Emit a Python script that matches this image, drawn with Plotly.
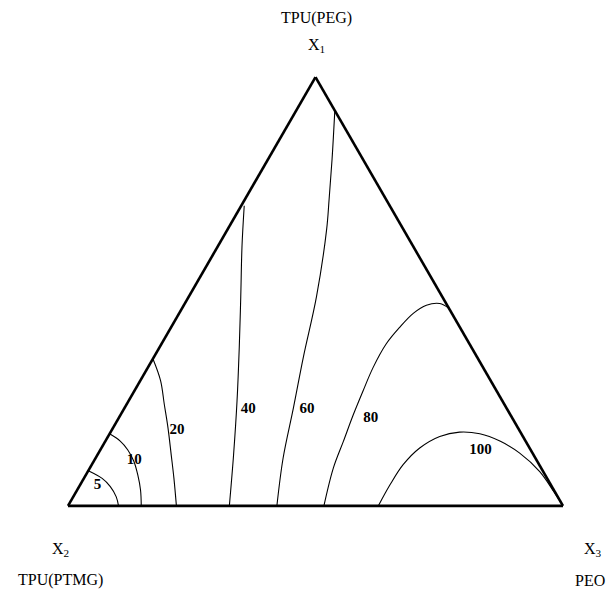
import plotly.graph_objects as go

# Ternary contour lines: X1 = TPU(PEG) (top), X3 = PEO (bottom right);
# X2 = TPU(PTMG) is the remainder 1 - X1 - X3.
levels = ["5", "10", "20", "40", "60", "80", "100"]

x1_5 = [0.082, 0.064, 0.045, 0.021, 0.0]
x3_5 = [0.0, 0.037, 0.063, 0.087, 0.102]

x1_10 = [0.168, 0.151, 0.131, 0.104, 0.072, 0.037, 0.0]
x3_10 = [0.0, 0.030, 0.055, 0.081, 0.105, 0.128, 0.148]

x1_20 = [0.343, 0.292, 0.237, 0.182, 0.119, 0.064, 0.0]
x3_20 = [0.0, 0.041, 0.076, 0.111, 0.149, 0.182, 0.219]

x1_40 = [0.700, 0.605, 0.488, 0.370, 0.245, 0.119, 0.0]
x3_40 = [0.006, 0.049, 0.105, 0.161, 0.219, 0.275, 0.326]

x1_60 = [0.922, 0.809, 0.715, 0.645, 0.488, 0.347, 0.229, 0.111, 0.0]
x3_60 = [0.078, 0.129, 0.170, 0.200, 0.258, 0.302, 0.341, 0.379, 0.422]

x1_80 = [0.0, 0.088, 0.151, 0.213, 0.268, 0.323, 0.378, 0.417, 0.449,
         0.468, 0.472, 0.461]
x3_80 = [0.517, 0.492, 0.481, 0.470, 0.462, 0.455, 0.454, 0.462, 0.473,
         0.490, 0.515, 0.539]

x1_100 = [0.0, 0.049, 0.096, 0.135, 0.162, 0.172, 0.168, 0.151, 0.123,
          0.080, 0.033, 0.0]
x3_100 = [0.627, 0.626, 0.629, 0.643, 0.670, 0.705, 0.748, 0.797, 0.851,
          0.913, 0.965, 1.0]

# Label anchor positions (X1, X3) for each contour level
label_x1 = [0.047, 0.106, 0.176, 0.226, 0.226, 0.205, 0.129]
label_x3 = [0.036, 0.081, 0.132, 0.251, 0.370, 0.509, 0.769]

contours = [
    (x1_5, x3_5), (x1_10, x3_10), (x1_20, x3_20), (x1_40, x3_40),
    (x1_60, x3_60), (x1_80, x3_80), (x1_100, x3_100),
]

SERIF = "Liberation Serif, Times New Roman, serif"
W, H = 613, 590

fig = go.Figure()

for (a_vals, c_vals), lvl in zip(contours, levels):
    b_vals = [max(0.0, 1 - a - c) for a, c in zip(a_vals, c_vals)]
    fig.add_trace(go.Scatterternary(
        a=a_vals, b=b_vals, c=c_vals,
        mode="lines",
        line=dict(color="black", width=1.1, shape="spline", smoothing=1.0),
        name=lvl, showlegend=False, hoverinfo="skip",
    ))

fig.add_trace(go.Scatterternary(
    a=label_x1,
    b=[1 - a - c for a, c in zip(label_x1, label_x3)],
    c=label_x3,
    mode="text",
    text=levels,
    textfont=dict(family=SERIF, size=15, color="black", weight="bold"),
    showlegend=False, hoverinfo="skip",
))

axis_style = dict(
    showgrid=False, showticklabels=False, ticks="",
    showline=True, linecolor="black", linewidth=2.6,
    title=dict(text=""),
)

cx, cy, side = 315.5, 291.5, 495.0
h_tri = side * 3 ** 0.5 / 2
fig.update_layout(
    width=W, height=H,
    margin=dict(l=0, r=0, t=0, b=0),
    paper_bgcolor="white",
    ternary=dict(
        sum=1,
        bgcolor="white",
        domain=dict(
            x=[(cx - side / 2) / W, (cx + side / 2) / W],
            y=[1 - (cy + h_tri / 2 + 0.5) / H, 1 - (cy - h_tri / 2 - 0.5) / H],
        ),
        aaxis=axis_style, baxis=axis_style, caxis=axis_style,
    ),
)

corner_labels = [
    ("TPU(PEG)", 316, 18),
    ("X<sub>1</sub>", 316, 46),
    ("X<sub>2</sub>", 60, 549),
    ("TPU(PTMG)", 60, 580),
    ("X<sub>3</sub>", 593, 549),
    ("PEO", 590, 580),
]
for txt, px, py in corner_labels:
    fig.add_annotation(
        text=txt, x=px / W, y=1 - py / H, xref="paper", yref="paper",
        xanchor="center", yanchor="middle", showarrow=False,
        font=dict(family=SERIF, size=16, color="black"),
    )

fig.write_html("out.html")
